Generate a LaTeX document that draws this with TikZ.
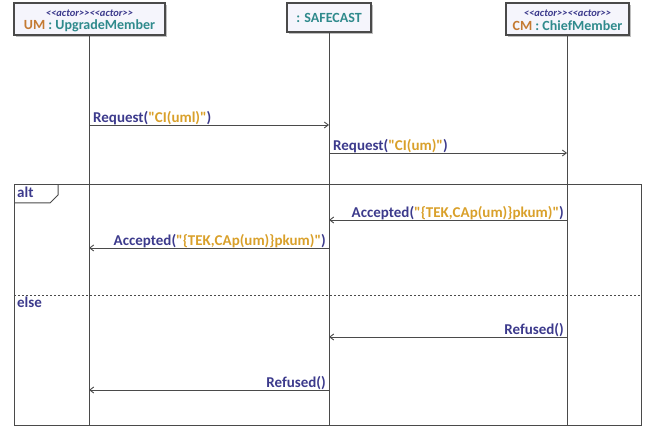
\documentclass[tikz,border=0pt]{standalone}
\usepackage{fontspec}
\setmainfont{Carlito}
\usetikzlibrary{arrows.meta}
\definecolor{msgname}{HTML}{3C3A8C}
\definecolor{msgarg}{HTML}{D9A02A}
\definecolor{objname}{HTML}{C47A32}
\definecolor{clsname}{HTML}{2F8A8C}
\definecolor{boxfill}{HTML}{F5F5FC}
\definecolor{linegray}{HTML}{4A4A4A}
\tikzset{
  lifebox/.style={draw=linegray, line width=1.1pt, fill=boxfill},
  lifeline/.style={draw=linegray, line width=0.9pt},
  msg/.style={draw=linegray, line width=0.9pt, -{Straight Barb[length=4pt,width=6pt]}},
  lbl/.style={font=\bfseries\fontsize{15}{17}\selectfont, inner sep=1pt},
  stereo/.style={font=\itshape\bfseries\fontsize{10.5}{11}\selectfont, text=msgname, inner sep=0pt},
  head/.style={font=\bfseries\fontsize{14}{16}\selectfont, inner sep=0pt},
  frameline/.style={draw=linegray, line width=1pt},
}
\newcommand{\mname}[1]{\textcolor{msgname}{#1}}
\newcommand{\marg}[1]{\textcolor{msgarg}{#1}}
\newcommand{\qt}{\textquotedbl}
\newcommand{\stype}{{<}{<}actor{>}{>}{<}{<}actor{>}{>}}
\begin{document}
\begin{tikzpicture}[x=1pt,y=-1pt]
\useasboundingbox (0,0) rectangle (645,427);
% lifeline heads with a faint shadow
\fill[black!25] (16,5) rectangle (167,37);
\fill[black!25] (289,5) rectangle (373,34);
\fill[black!25] (508,5) rectangle (631,37);
\draw[lifebox] (14,3) rectangle (165,35);
\draw[lifebox] (287,3) rectangle (371,32);
\draw[lifebox] (506,3) rectangle (629,35);
\node[stereo] (umst) at (89.5,13) {\stype};
\node[head] (umhd) at (89.5,26) {\textcolor{objname}{UM} \textcolor{clsname}{: UpgradeMember}};
\node[head] (sfhd) at (329,18) {\textcolor{clsname}{: SAFECAST}};
\node[stereo] (cmst) at (567.5,13) {\stype};
\node[head] (cmhd) at (567.5,26) {\textcolor{objname}{CM} \textcolor{clsname}{: ChiefMember}};
% lifelines
\coordinate (umtop) at (89,35);
\coordinate (umbot) at (89,425);
\coordinate (sftop) at (329,32);
\coordinate (sfbot) at (329,425);
\coordinate (cmtop) at (567,35);
\coordinate (cmbot) at (567,425);
\draw[lifeline] (umtop) -- (umbot);
\draw[lifeline] (sftop) -- (sfbot);
\draw[lifeline] (cmtop) -- (cmbot);
% alt combined fragment
\draw[frameline] (14,185) rectangle (641,425);
\draw[frameline] (14,203) -- (50,203) -- (58,195) -- (58,185);
\node[lbl, anchor=base west, text=msgname] (alt) at (16,198) {alt};
\draw[linegray, line width=1pt, dash pattern=on 2pt off 2pt] (14,296) -- (641,296);
\node[lbl, anchor=base west, text=msgname] (else) at (16,308) {else};
% messages
\coordinate (m1a) at (89,125);  \coordinate (m1b) at (329,125);
\coordinate (m2a) at (329,153); \coordinate (m2b) at (567,153);
\coordinate (m3a) at (567,220); \coordinate (m3b) at (329,220);
\coordinate (m4a) at (329,248); \coordinate (m4b) at (89,248);
\coordinate (m5a) at (567,337); \coordinate (m5b) at (329,337);
\coordinate (m6a) at (329,390); \coordinate (m6b) at (89,390);
\draw[msg] (m1a) -- (m1b);
\draw[msg] (m2a) -- (m2b);
\draw[msg] (m3a) -- (m3b);
\draw[msg] (m4a) -- (m4b);
\draw[msg] (m5a) -- (m5b);
\draw[msg] (m6a) -- (m6b);
\node[lbl, anchor=base west] (l1) at ([xshift=3pt,yshift=2.5pt]m1a) {\mname{Request(}\marg{\qt CI(uml)\qt}\mname{)}};
\node[lbl, anchor=base west] (l2) at ([xshift=3pt,yshift=2.5pt]m2a) {\mname{Request(}\marg{\qt CI(um)\qt}\mname{)}};
\node[lbl, anchor=base east] (l3) at ([xshift=-2pt,yshift=2.5pt]m3a) {\mname{Accepted(}\marg{\qt\{TEK,CAp(um)\}pkum)\qt}\mname{)}};
\node[lbl, anchor=base east] (l4) at ([xshift=-2pt,yshift=2.5pt]m4a) {\mname{Accepted(}\marg{\qt\{TEK,CAp(um)\}pkum)\qt}\mname{)}};
\node[lbl, anchor=base east] (l5) at ([xshift=-2pt,yshift=2.5pt]m5a) {\mname{Refused()}};
\node[lbl, anchor=base east] (l6) at ([xshift=-2pt,yshift=2.5pt]m6a) {\mname{Refused()}};
\end{tikzpicture}
\end{document}
